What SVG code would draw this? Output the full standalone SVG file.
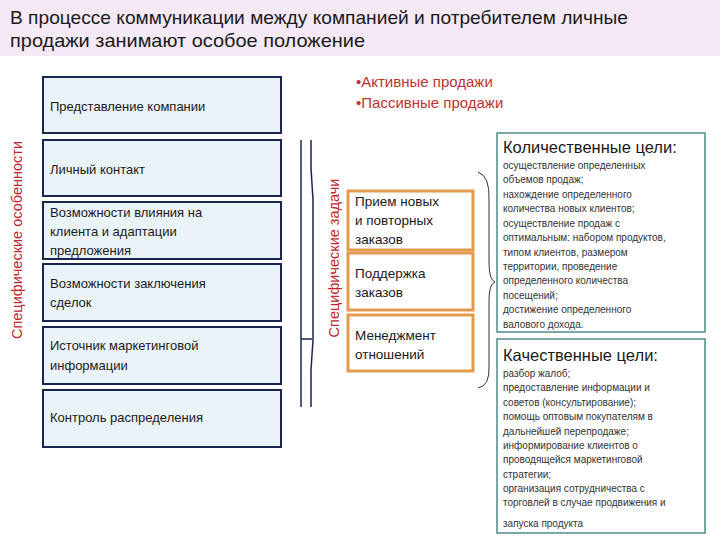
<svg xmlns="http://www.w3.org/2000/svg" width="720" height="540" viewBox="0 0 720 540">
<style>
text{font-family:"Liberation Sans",Arial,sans-serif;fill:#1a1a1a}
.lb{fill:#eaf3f7;stroke:#1a2550;stroke-width:2}
.ob{fill:#fff;stroke:#e39a4c;stroke-width:3}
.tb{fill:#fff;stroke:#4d8a8a;stroke-width:1.5}
.lt{font-size:13px}
.ot{font-size:13.5px}
.st{font-size:10px;fill:#333}
.red{fill:#c0262d;font-size:14.5px}
.ln{fill:none;stroke:#1a2550;stroke-width:1.5}
.hd{font-size:16.5px}
</style>
<rect x="0" y="0" width="720" height="56" fill="#f5e9f5"/>
<text x="10" y="24" font-size="19" textLength="618" lengthAdjust="spacingAndGlyphs">В процессе коммуникации между компанией и потребителем личные</text>
<text x="10" y="47" font-size="19" textLength="355" lengthAdjust="spacingAndGlyphs">продажи занимают особое положение</text>
<text x="356" y="87" style="font-size:15px;fill:#c0332d">•Активные продажи</text>
<text x="356" y="108" style="font-size:15px;fill:#c0332d">•Пассивные продажи</text>
<text class="red" transform="translate(22,240) rotate(-90)" text-anchor="middle">Специфические особенности</text>
<text class="red" transform="translate(339,258) rotate(-90)" text-anchor="middle">Специфические задачи</text>
<g id="n1"><rect class="lb" x="43" y="77" width="238" height="56"/><text class="lt" x="50" y="111">Представление компании</text></g>
<g id="n2"><rect class="lb" x="43" y="140" width="238" height="56"/><text class="lt" x="50" y="174">Личный контакт</text></g>
<g id="n3"><rect class="lb" x="43" y="202" width="238" height="57"/><text class="lt" x="50" y="217">Возможности влияния на</text><text class="lt" x="50" y="236">клиента и адаптации</text><text class="lt" x="50" y="255">предложения</text></g>
<g id="n4"><rect class="lb" x="43" y="264" width="238" height="57"/><text class="lt" x="50" y="288">Возможности заключения</text><text class="lt" x="50" y="307">сделок</text></g>
<g id="n5"><rect class="lb" x="43" y="327" width="238" height="57"/><text class="lt" x="50" y="350">Источник маркетинговой</text><text class="lt" x="50" y="370">информации</text></g>
<g id="n6"><rect class="lb" x="43" y="390" width="238" height="57"/><text class="lt" x="50" y="422">Контроль распределения</text></g>
<g id="connectors">
<path class="ln" d="M301 140 V407"/>
<path class="ln" d="M311 140 V168 L313 200 V340 L311 370 V407"/>
<path class="ln" d="M301 339 H312"/>
<path fill="none" stroke="#333" stroke-width="1" d="M478 172 Q490 176 489 200 V262 Q489 280 495 282 Q489 284 489 300 V366 Q490 386 478 388"/>
</g>
<g id="t1"><rect class="ob" x="348" y="191" width="125" height="59"/><text class="ot" x="355" y="206">Прием новых</text><text class="ot" x="355" y="225">и повторных</text><text class="ot" x="355" y="244">заказов</text></g>
<g id="t2"><rect class="ob" x="348" y="253" width="125" height="57"/><text class="ot" x="355" y="278">Поддержка</text><text class="ot" x="355" y="297">заказов</text></g>
<g id="t3"><rect class="ob" x="348" y="315" width="125" height="56"/><text class="ot" x="355" y="340">Менеджмент</text><text class="ot" x="355" y="359">отношений</text></g>
<g id="q1"><rect class="tb" x="497" y="133" width="208" height="199"/>
<text class="hd" x="503" y="153">Количественные цели:</text>
<text class="st"><tspan x="503" y="169">осуществление определенных</tspan><tspan x="503" y="183">объемов продаж;</tspan><tspan x="503" y="198">нахождение определенного</tspan><tspan x="503" y="212">количества новых клиентов;</tspan><tspan x="503" y="227">осуществление продаж с</tspan><tspan x="503" y="241">оптимальным: набором продуктов,</tspan><tspan x="503" y="256">типом клиентов, размером</tspan><tspan x="503" y="270">территории, проведение</tspan><tspan x="503" y="284">определенного количества</tspan><tspan x="503" y="299">посещений;</tspan><tspan x="503" y="313">достижение определенного</tspan><tspan x="503" y="328">валового дохода.</tspan></text></g>
<g id="q2"><rect class="tb" x="497" y="339" width="208" height="194"/>
<text class="hd" x="503" y="361">Качественные цели:</text>
<text class="st"><tspan x="503" y="377">разбор жалоб;</tspan><tspan x="503" y="391">предоставление информации и</tspan><tspan x="503" y="406">советов (консультирование);</tspan><tspan x="503" y="420">помощь оптовым покупателям в</tspan><tspan x="503" y="435">дальнейшей перепродаже;</tspan><tspan x="503" y="449">информирование клиентов о</tspan><tspan x="503" y="463">проводящейся маркетинговой</tspan><tspan x="503" y="478">стратегии;</tspan><tspan x="503" y="492">организация сотрудничества с</tspan><tspan x="503" y="506">торговлей в случае продвижения и</tspan><tspan x="503" y="527">запуска продукта</tspan></text></g>
</svg>
